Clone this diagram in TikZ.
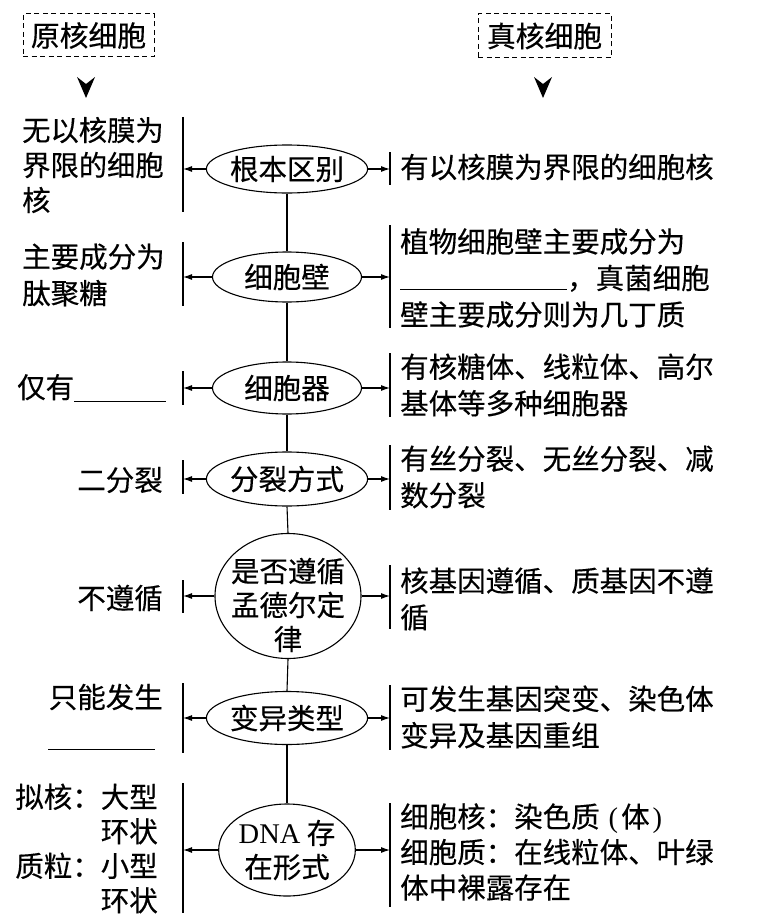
\documentclass[tikz,border=0pt]{standalone}
\usepackage{fontspec}
\setmainfont[FakeBold=0.35]{Noto Sans CJK SC}
\newfontfamily\latfont{Liberation Serif}
\usetikzlibrary{shapes.geometric,arrows.meta}
\tikzset{
  txt/.style={inner sep=0pt, font=\fontsize{28.5}{36.5}\selectfont},
  ell/.style={draw, ellipse, line width=1.1pt, inner sep=0pt, font=\fontsize{28.5}{34}\selectfont, align=center},
  barline/.style={line width=1.2pt},
  arr/.style={line width=1.1pt, -{Latex[length=9pt,width=6pt]}},
  dbox/.style={draw, dash pattern=on 5pt off 3.5pt, line width=1pt, inner sep=0pt, font=\fontsize{28.8}{34}\selectfont},
  vline/.style={line width=1.1pt},
}
\begin{document}
\begin{tikzpicture}[x=1pt,y=-1pt]
\useasboundingbox (0,0) rectangle (756,923);

% header boxes
\node[dbox, minimum width=131pt, minimum height=43pt] (pro) at (88.5,35.5) {原核细胞};
\node[dbox, minimum width=133pt, minimum height=44pt] (euk) at (544.5,36) {真核细胞};
\fill (77,77) -- (86,98) -- (95,77) -- (86,84) -- cycle;
\fill (534,77) -- (543,98) -- (552,77) -- (543,84) -- cycle;

% ellipses
\node[ell, minimum width=149pt, minimum height=48pt] (e1) at (287,169) {根本区别};
\node[ell, minimum width=149pt, minimum height=50pt] (e2) at (287,277) {细胞壁};
\node[ell, minimum width=149pt, minimum height=52pt] (e3) at (287,388) {细胞器};
\node[ell, minimum width=149pt, minimum height=54pt] (e4) at (287,479) {分裂方式};
\node[ell, minimum width=146pt, minimum height=125pt] (e5) at (288,596) {};
\node[txt, align=center, font=\fontsize{28.5}{34}\selectfont] (t5) at (288,605) {是否遵循\\孟德尔定\\律};
\node[ell, minimum width=149pt, minimum height=53pt] (e6) at (287,718) {变异类型};
\node[ell, minimum width=136pt, minimum height=92pt] (e7) at (287,850) {{\latfont DNA} 存\\在形式};

% central line
\draw[vline] (e1.south) -- (e2.north);
\draw[vline] (e2.south) -- (e3.north);
\draw[vline] (e3.south) -- (e4.north);
\draw[vline] (e4.south) -- (e5.north);
\draw[vline] (e5.south) -- (e6.north);
\draw[vline] (e6.south) -- (e7.north);

% bars (left)
\coordinate (l1t) at (183,117); \coordinate (l1b) at (183,212);
\coordinate (l2t) at (183,242); \coordinate (l2b) at (183,306);
\coordinate (l3t) at (183,371); \coordinate (l3b) at (183,405);
\coordinate (l4t) at (183,460); \coordinate (l4b) at (183,494);
\coordinate (l5t) at (183,580); \coordinate (l5b) at (183,613);
\coordinate (l6t) at (183,683); \coordinate (l6b) at (183,753);
\coordinate (l7t) at (183,783); \coordinate (l7b) at (183,913);
% bars (right)
\coordinate (r1t) at (390,152); \coordinate (r1b) at (390,185);
\coordinate (r2t) at (390,225); \coordinate (r2b) at (390,328);
\coordinate (r3t) at (390,353); \coordinate (r3b) at (390,417);
\coordinate (r4t) at (390,445); \coordinate (r4b) at (390,510);
\coordinate (r5t) at (390,565); \coordinate (r5b) at (390,629);
\coordinate (r6t) at (390,685); \coordinate (r6b) at (390,750);
\coordinate (r7t) at (390,803); \coordinate (r7b) at (390,907);

\foreach \i in {1,...,7}{
  \draw[barline] (l\i t) -- (l\i b);
  \draw[barline] (r\i t) -- (r\i b);
  \draw[arr] (e\i.west) -- (e\i.west -| l\i t);
  \draw[arr] (e\i.east) -- (e\i.east -| r\i t);
}

% left texts
\node[txt, anchor=west, align=left, font=\fontsize{28.3}{35}\selectfont] (lt1) at (22,165) {无以核膜为\\界限的细胞\\核};
\node[txt, anchor=west, align=left] (lt2) at (22,275) {主要成分为\\肽聚糖};
\node[txt, anchor=west] (lt3) at (17,388) {仅有\rule[-4pt]{92pt}{0.8pt}};
\node[txt, anchor=east] (lt4) at (163,480) {二分裂};
\node[txt, anchor=east] (lt5) at (163,598) {不遵循};
\node[txt, anchor=east] (lt6) at (163,697) {只能发生};
\draw[line width=0.8pt] (48,749) -- (155,749);
\node[txt, anchor=east, align=right, font=\fontsize{28.5}{34.5}\selectfont] (lt7) at (158,848.5) {拟核：大型\\环状\\质粒：小型\\环状};

% right texts
\node[txt, anchor=west] (rt1) at (400,167) {有以核膜为界限的细胞核};
\node[txt, anchor=west, align=left] (rt2) at (400,278) {植物细胞壁主要成分为\\\rule[-1pt]{167pt}{0.8pt}，真菌细胞\\壁主要成分则为几丁质};
\node[txt, anchor=west, align=left] (rt3) at (400,385) {有核糖体、线粒体、高尔\\基体等多种细胞器};
\node[txt, anchor=west, align=left] (rt4) at (400,477) {有丝分裂、无丝分裂、减\\数分裂};
\node[txt, anchor=west, align=left] (rt5) at (400,599) {核基因遵循、质基因不遵\\循};
\node[txt, anchor=west, align=left] (rt6) at (400,717) {可发生基因突变、染色体\\变异及基因重组};
\node[txt, anchor=west, align=left, font=\fontsize{28.5}{35.5}\selectfont] (rt7) at (400,852) {细胞核：染色质\hspace{9pt}{\latfont (}\hspace{3pt}体\hspace{3pt}{\latfont )}\\细胞质：在线粒体、叶绿\\体中裸露存在};
\end{tikzpicture}
\end{document}
